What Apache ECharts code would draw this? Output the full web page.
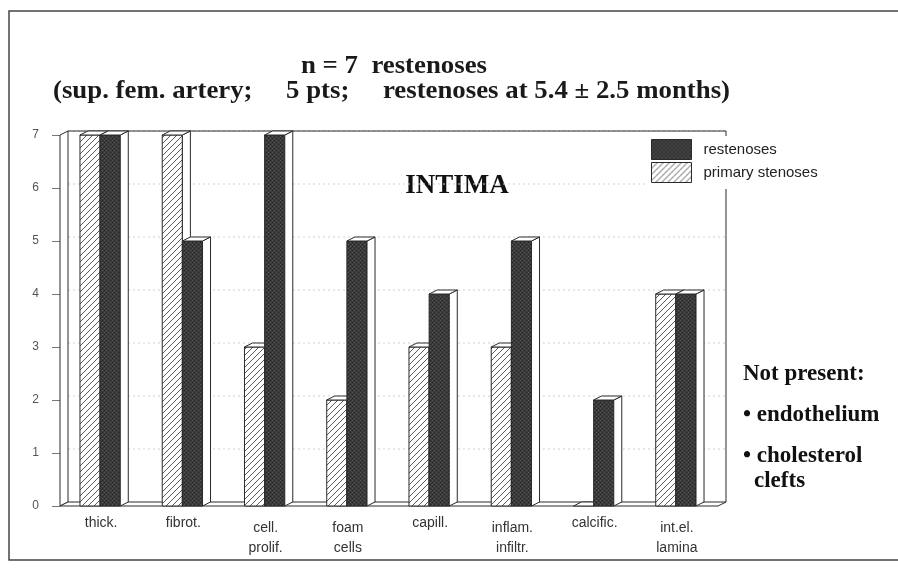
<!DOCTYPE html>
<html>
<head>
<meta charset="utf-8">
<script src="https://cdn.jsdelivr.net/npm/echarts@6/dist/echarts.min.js"></script>
<style>
  html, body { margin: 0; padding: 0; background: #fff; }
  #chart { width: 898px; height: 571px; }
</style>
</head>
<body>
<div id="chart"></div>
<script>
// Histological findings in the intima (count of cases per feature)
const categories = ['thick.', 'fibrot.', 'cell.\nprolif.', 'foam\ncells', 'capill.', 'inflam.\ninfiltr.', 'calcific.', 'int.el.\nlamina'];
const primaryStenoses = [7, 7, 3, 2, 3, 3, 0, 4];
const restenoses = [7, 5, 7, 5, 4, 5, 2, 4];
const yTicks = [0, 1, 2, 3, 4, 5, 6, 7];

const titleLine1 = 'n = 7  restenoses';
const titleLine2 = '(sup. fem. artery;     5 pts;     restenoses at 5.4 \u00B1 2.5 months)';
const panelTitle = 'INTIMA';
const notPresent = ['Not present:', '\u2022 endothelium', '\u2022 cholesterol', 'clefts'];

// depth of the pseudo-3D extrusion
const DX = 8, DY = -4;
const EDGE = '#2a2a2a';

const serifFont = '"Liberation Serif", "Times New Roman", serif';
const sansFont = '"Liberation Sans", Arial, sans-serif';

function makeHatch() {
  const n = 6;
  const c = document.createElement('canvas');
  c.width = n; c.height = n;
  const g = c.getContext('2d');
  g.fillStyle = '#fff'; g.fillRect(0, 0, n, n);
  g.strokeStyle = '#5a5a5a'; g.lineWidth = 1;
  g.beginPath();
  g.moveTo(-1, n + 1); g.lineTo(n + 1, -1);
  g.moveTo(-1, 1); g.lineTo(1, -1);
  g.moveTo(n - 1, n + 1); g.lineTo(n + 1, n - 1);
  g.stroke();
  return { image: c, repeat: 'repeat' };
}
function makeDark() {
  const c = document.createElement('canvas');
  c.width = 4; c.height = 4;
  const g = c.getContext('2d');
  g.fillStyle = '#3a3a3a'; g.fillRect(0, 0, 4, 4);
  g.fillStyle = '#575757'; g.fillRect(0, 0, 1, 1); g.fillRect(2, 2, 1, 1);
  g.fillStyle = '#262626'; g.fillRect(2, 0, 1, 1); g.fillRect(0, 2, 1, 1);
  return { image: c, repeat: 'repeat' };
}
const hatchFill = makeHatch();
const darkFill = makeDark();

// horizontal stretch that makes a string span a given width
const measureCtx = document.createElement('canvas').getContext('2d');
function fitScale(text, font, width) {
  measureCtx.font = font;
  return width / measureCtx.measureText(text).width;
}

function barRenderer(slot, fill) {
  return function (params, api) {
    const ci = api.value(0), v = api.value(1);
    const base = api.coord([ci, 0]);
    const top = api.coord([ci, v]);
    const cw = api.size([1, 0])[0];
    const bw = cw * 0.245;
    const x0 = base[0] - bw + slot * bw - 1;
    const yT = top[1], yB = base[1];
    const line = { stroke: EDGE, lineWidth: 1 };
    const kids = [];
    if (yB - yT > 0) {
      kids.push({ type: 'rect', shape: { x: x0, y: yT, width: bw, height: yB - yT },
        style: Object.assign({ fill: fill }, line) });
      kids.push({ type: 'polygon', shape: { points: [[x0 + bw, yT], [x0 + bw + DX, yT + DY], [x0 + bw + DX, yB + DY], [x0 + bw, yB]] },
        style: Object.assign({ fill: '#fff' }, line) });
    }
    kids.push({ type: 'polygon', shape: { points: [[x0, yT], [x0 + DX, yT + DY], [x0 + bw + DX, yT + DY], [x0 + bw, yT]] },
      style: Object.assign({ fill: '#fff' }, line) });
    return { type: 'group', children: kids };
  };
}

function frameRenderer(params, api) {
  const cs = params.coordSys;
  const x = cs.x, y = cs.y, w = cs.width, h = cs.height;
  const yb = y + h;
  const line = { stroke: EDGE, lineWidth: 1, fill: null };
  const kids = [];
  // dotted guide lines on the back wall
  yTicks.forEach(function (t) {
    if (t === 0) return;
    const py = api.coord([0, t])[1] + DY;
    kids.push({ type: 'line', shape: { x1: x + DX, y1: py, x2: x + w + DX, y2: py },
      style: { stroke: '#cfcfcf', lineWidth: 1, lineDash: [2, 3] } });
  });
  // left wall slab
  kids.push({ type: 'polygon', shape: { points: [[x, yb], [x, y], [x + DX, y + DY], [x + DX, yb + DY]] },
    style: { fill: '#fff', stroke: EDGE, lineWidth: 1 } });
  // back top edge and right wall
  kids.push({ type: 'polyline', shape: { points: [[x + DX, y + DY], [x + w + DX, y + DY], [x + w + DX, yb + DY]] }, style: line });
  // floor
  kids.push({ type: 'polygon', shape: { points: [[x, yb], [x + DX, yb + DY], [x + w + DX, yb + DY], [x + w, yb]] },
    style: { fill: '#fff', stroke: EDGE, lineWidth: 1 } });
  return { type: 'group', children: kids };
}

const chart = echarts.init(document.getElementById('chart'), null, { renderer: 'canvas' });

const titleFont = 'bold 26px ' + serifFont;
const s1 = fitScale(titleLine1, titleFont, 186);
const s2 = fitScale(titleLine2, titleFont, 677);

// two-line category names sit a little lower than the one-line ones
const categoryData = categories.map(function (c) {
  return c.indexOf('\n') >= 0 ? { value: c, textStyle: { padding: [5, 0, 0, 0] } } : c;
});

chart.setOption({
  backgroundColor: '#fff',
  animation: false,
  grid: { left: 60, top: 135, width: 658, height: 371 },
  xAxis: {
    type: 'category',
    data: categoryData,
    axisLine: { show: false },
    axisTick: { show: false },
    axisLabel: { color: '#333', fontFamily: sansFont, fontSize: 14, lineHeight: 20, margin: 7, interval: 0 }
  },
  yAxis: {
    type: 'value',
    min: 0, max: 7, interval: 1,
    axisLine: { show: false },
    axisTick: { show: true, length: 8, lineStyle: { color: '#777' } },
    splitLine: { show: false },
    axisLabel: { color: '#555', fontFamily: sansFont, fontSize: 12, margin: 21 }
  },
  legend: {
    orient: 'vertical',
    left: 648, top: 136,
    itemWidth: 40, itemHeight: 20, itemGap: 2,
    backgroundColor: '#fff',
    padding: [3, 4, 6, 3],
    textStyle: { fontFamily: sansFont, fontSize: 15, color: '#222', padding: [0, 0, 0, 7] },
    data: [
      { name: 'restenoses', icon: 'rect', itemStyle: { color: darkFill, borderColor: EDGE, borderWidth: 1 } },
      { name: 'primary stenoses', icon: 'rect', itemStyle: { color: hatchFill, borderColor: EDGE, borderWidth: 1 } }
    ]
  },
  series: [
    {
      name: 'frame', type: 'custom', silent: true, z: 1,
      renderItem: frameRenderer,
      data: [[0, 0]]
    },
    {
      name: 'primary stenoses', type: 'custom', z: 2,
      itemStyle: { color: hatchFill },
      renderItem: barRenderer(0, hatchFill),
      encode: { x: 0, y: 1 },
      data: primaryStenoses.map(function (v, i) { return [i, v]; })
    },
    {
      name: 'restenoses', type: 'custom', z: 3,
      itemStyle: { color: darkFill },
      renderItem: barRenderer(1, darkFill),
      encode: { x: 0, y: 1 },
      data: restenoses.map(function (v, i) { return [i, v]; })
    }
  ],
  graphic: [
    { type: 'polyline', shape: { points: [[898, 11], [9, 11], [9, 560], [898, 560]] },
      style: { stroke: '#444', lineWidth: 1.5, fill: null }, z: 10 },
    { type: 'text', x: 301, y: 53, scaleX: s1, originX: 0,
      style: { text: titleLine1, font: titleFont, fill: '#1a1a1a', align: 'left', verticalAlign: 'alphabetic' } },
    { type: 'text', x: 53, y: 78, scaleX: s2, originX: 0,
      style: { text: titleLine2, font: titleFont, fill: '#1a1a1a', align: 'left', verticalAlign: 'alphabetic' } },
    { type: 'text', x: 457, y: 186, style: { text: panelTitle, font: 'bold 27px ' + serifFont, fill: '#111', align: 'center', verticalAlign: 'middle' } },
    { type: 'text', x: 743, y: 374, style: { text: notPresent[0], font: 'bold 23px ' + serifFont, fill: '#111', verticalAlign: 'middle' } },
    { type: 'text', x: 743, y: 415, style: { text: notPresent[1], font: 'bold 23px ' + serifFont, fill: '#111', verticalAlign: 'middle' } },
    { type: 'text', x: 743, y: 456, style: { text: notPresent[2], font: 'bold 23px ' + serifFont, fill: '#111', verticalAlign: 'middle' } },
    { type: 'text', x: 754, y: 481, style: { text: notPresent[3], font: 'bold 23px ' + serifFont, fill: '#111', verticalAlign: 'middle' } }
  ]
});
</script>
</body>
</html>
